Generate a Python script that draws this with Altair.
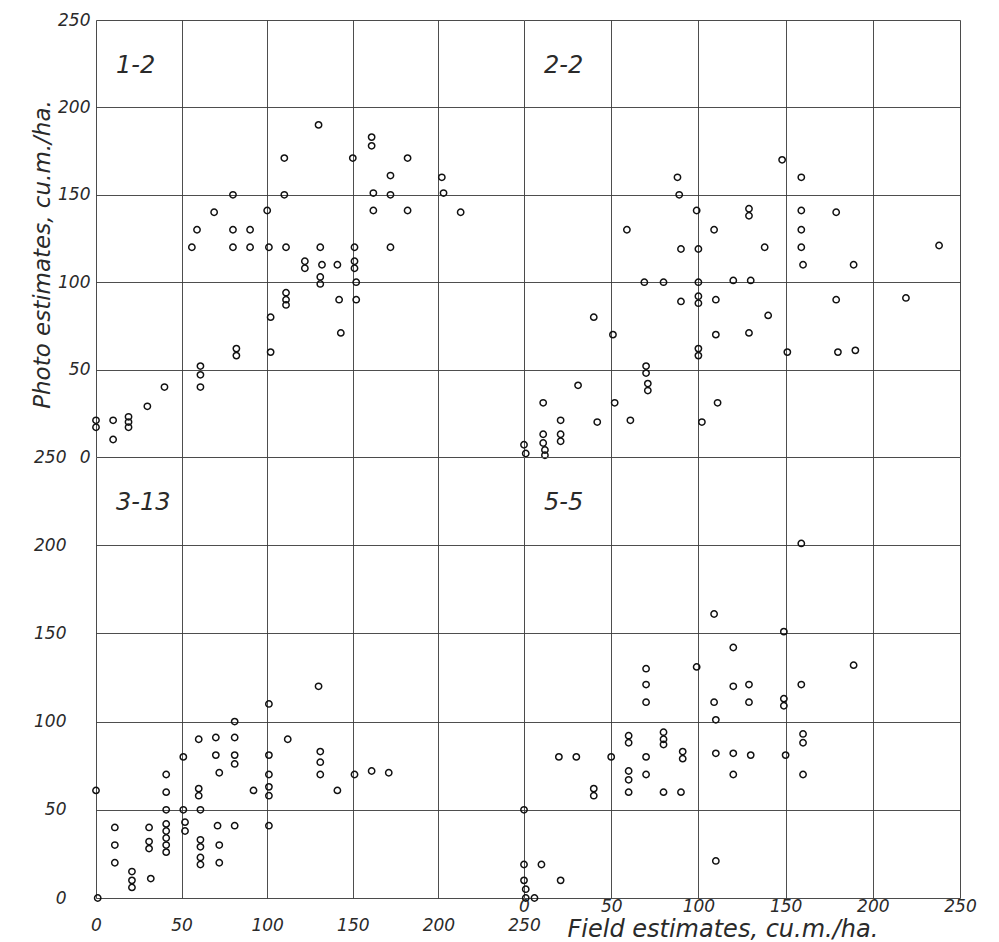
import altair as alt
import pandas as pd

# ---------------- data ----------------
# Panel 1-2
x12 = [0, 0, 10, 10, 19, 19, 19, 30, 40, 61, 61, 61, 56, 59, 69, 80, 80, 80, 90, 90,
       82, 82, 100, 101, 102, 102, 110, 110, 111, 111, 111, 111, 122, 122, 130, 131, 132, 131, 131, 141,
       142, 143, 150, 151, 151, 151, 152, 152, 161, 161, 162, 162, 172, 172, 172, 182, 182, 202, 203, 213]
y12 = [21, 17, 21, 10, 23, 20, 17, 29, 40, 52, 47, 40, 120, 130, 140, 150, 130, 120, 130, 120,
       62, 58, 141, 120, 80, 60, 171, 150, 120, 94, 90, 87, 112, 108, 190, 120, 110, 103, 99, 110,
       90, 71, 171, 120, 112, 108, 100, 90, 183, 178, 151, 141, 150, 161, 120, 171, 141, 160, 151, 140]

# Panel 2-2
x22 = [88, 89, 99, 109, 59, 90, 100, 69, 80, 100, 90, 100, 100, 110, 40, 51, 110, 100, 100, 70,
       70, 71, 71, 31, 11, 52, 111, 21, 42, 61, 102, 11, 11, 12, 12, 21, 21, 0, 1,
       148, 159, 129, 129, 159, 179, 159, 138, 159, 238, 160, 189, 120, 130, 179, 219, 140, 129, 151, 180, 190]
y22 = [160, 150, 141, 130, 130, 119, 119, 100, 100, 100, 89, 92, 88, 90, 80, 70, 70, 62, 58, 52,
       48, 42, 38, 41, 31, 31, 31, 21, 20, 21, 20, 13, 8, 4, 1, 13, 9, 7, 2,
       170, 160, 142, 138, 141, 140, 130, 120, 120, 121, 110, 110, 101, 101, 90, 91, 81, 71, 60, 60, 61]

# Panel 3-13
x313 = [0, 1, 11, 11, 11, 21, 21, 21, 32, 31, 31, 31, 41, 41, 41, 41, 41, 41, 41, 41,
        51, 51, 52, 52, 60, 60, 60, 61, 61, 61, 61, 61, 70, 70, 72, 71, 72, 72, 81, 81,
        81, 81, 81, 92, 101, 101, 101, 101, 101, 101, 112, 130, 131, 131, 131, 141, 151, 161, 171]
y313 = [61, 0, 40, 30, 20, 15, 10, 6, 11, 40, 32, 28, 70, 60, 50, 42, 38, 34, 30, 26,
        80, 50, 43, 38, 90, 62, 58, 50, 33, 29, 23, 19, 91, 81, 71, 41, 30, 20, 100, 91,
        81, 76, 41, 61, 110, 81, 70, 63, 58, 41, 90, 120, 83, 77, 70, 61, 70, 72, 71]

# Panel 5-5
x55 = [109, 120, 99, 70, 70, 70, 120, 109, 110, 60, 60, 80, 80, 80, 20, 30, 50, 70, 91, 91,
       110, 120, 120, 60, 60, 70, 40, 40, 60, 80, 90, 0, 0, 10, 0, 21, 1, 1, 6, 110,
       159, 149, 189, 129, 129, 149, 149, 159, 130, 150, 160, 160, 160]
y55 = [161, 142, 131, 130, 121, 111, 120, 111, 101, 92, 88, 94, 90, 87, 80, 80, 80, 80, 83, 79,
       82, 82, 70, 72, 67, 70, 62, 58, 60, 60, 60, 50, 19, 19, 10, 10, 5, 0, 0, 21,
       201, 151, 132, 121, 111, 113, 109, 121, 81, 81, 93, 88, 70]

panel_labels = ["1-2", "2-2", "3-13", "5-5"]
tick_values = [0, 50, 100, 150, 200, 250]
x_title = "Field estimates, cu.m./ha."
y_title = "Photo estimates, cu.m./ha."

FONT = "DejaVu Sans"
INK = "#2a2a2a"


def axis(**kw):
    base = dict(values=tick_values, grid=True, ticks=False, domain=False,
                labelFont=FONT, labelFontSize=17, labelFontStyle="italic",
                labelColor=INK, labelFlush=False, labelOverlap=False,
                gridColor="#3a3a3a", gridWidth=0.9, gridOpacity=1,
                titleFont=FONT, titleFontStyle="italic", titleFontWeight="normal",
                titleColor=INK)
    base.update(kw)
    return alt.Axis(**base)


def panel(xs, ys, label, w, h, x_axis, y_axis):
    df = pd.DataFrame({"field": xs, "photo": ys})
    pts = alt.Chart(df).mark_point(
        shape="circle", filled=False, color="#111111", size=40,
        strokeWidth=1.5, opacity=1
    ).encode(
        x=alt.X("field:Q", scale=alt.Scale(domain=[0, 250], nice=False), axis=x_axis),
        y=alt.Y("photo:Q", scale=alt.Scale(domain=[0, 250], nice=False), axis=y_axis),
    )
    txt = alt.Chart(pd.DataFrame({"t": [label]})).mark_text(
        font=FONT, fontSize=24, fontStyle="italic", color=INK,
        align="left", baseline="middle"
    ).encode(text="t:N", x=alt.value(20), y=alt.value(46))
    return alt.layer(pts, txt).properties(width=w, height=h)


tl = panel(x12, y12, panel_labels[0], 428, 437,
           axis(labels=False, title=None),
           axis(labelPadding=6, title=y_title, titleFontSize=23,
                titleX=-47, titleY=234, titleBaseline="alphabetic"))
tr = panel(x22, y22, panel_labels[1], 436, 437,
           axis(labels=False, title=None),
           axis(labels=False, title=None))
bl = panel(x313, y313, panel_labels[2], 428, 441,
           axis(labelPadding=19, title=None),
           axis(labelPadding=30, title=None))
br = panel(x55, y55, panel_labels[3], 436, 441,
           axis(labelPadding=0, title=x_title, titleFontSize=24,
                titleX=43, titleAlign="left", titleY=19, titleBaseline="top"),
           axis(labels=False, title=None))

chart = alt.concat(tl, tr, bl, br, columns=2, spacing=0, bounds="flush", align="each").properties(
    padding={"left": 22, "top": 2, "right": 5, "bottom": 5}
).configure_view(stroke="black", strokeWidth=2).configure(background="white")

chart.save("out.html", embed_options={"renderer": "svg", "actions": False})
